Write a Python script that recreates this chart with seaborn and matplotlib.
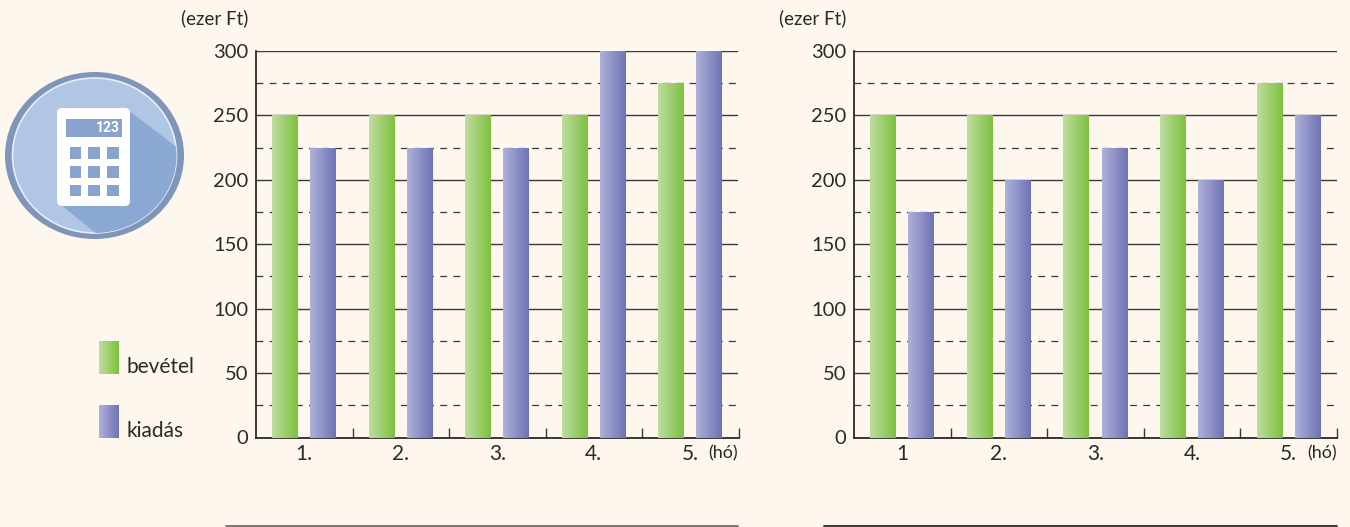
import numpy as np
import pandas as pd
import seaborn as sns
import matplotlib.pyplot as plt
from matplotlib.colors import LinearSegmentedColormap
from matplotlib.patches import Ellipse, Polygon, FancyBboxPatch, Rectangle

# chart values (ezer Ft)
series_names = ['bevétel', 'kiadás']
labels_left = ['1.', '2.', '3.', '4.', '5.']
labels_right = ['1', '2.', '3.', '4.', '5.']
income_left = [250, 250, 250, 250, 275]
expense_left = [225, 225, 225, 300, 300]
income_right = [250, 250, 250, 250, 275]
expense_right = [175, 200, 225, 200, 250]

BG = '#fef7ee'
INK = '#2b2a29'
W, H = 1350, 527
cmaps = {
    'bevétel': LinearSegmentedColormap.from_list('g', ['#bfdd9f', '#7dc13f']),
    'kiadás': LinearSegmentedColormap.from_list('p', ['#aeb1da', '#6e73b4']),
}
ramp = np.linspace(0, 1, 64).reshape(1, -1)

sns.set_theme(style='white')
plt.rcParams['font.family'] = ['Lato', 'DejaVu Sans']
plt.rcParams['text.color'] = INK

fig = plt.figure(figsize=(W / 100, H / 100), dpi=100, facecolor=BG)


# one chart panel, box given in pixels of the picture
def draw_panel(left, right, labels, income, expense):
    ax = fig.add_axes([left / W, 1 - 437.5 / H, (right - left) / W, 386.5 / H], facecolor=BG)
    df = pd.DataFrame({
        'month': labels * 2,
        'series': ['bevétel'] * 5 + ['kiadás'] * 5,
        'value': income + expense,
    })
    sns.barplot(data=df, x='month', y='value', hue='series', hue_order=series_names,
                order=labels, width=0.79, gap=0.32, legend=False, ax=ax)

    # seaborn's flat bars get replaced by horizontal gradients of the same size
    for bars, name in zip(ax.containers, series_names):
        for bar in bars:
            x0, y0 = bar.get_x(), bar.get_y()
            ax.imshow(ramp, cmap=cmaps[name], aspect='auto', zorder=3,
                      extent=[x0, x0 + bar.get_width(), y0, y0 + bar.get_height()])
            bar.set_visible(False)

    ax.set_xlim(-0.5, 4.5)
    ax.set_ylim(0, 300)
    ax.set_xlabel('')
    ax.set_ylabel('')
    ax.set_yticks(range(0, 301, 50))
    ax.set_yticks(range(25, 300, 50), minor=True)
    ax.set_xticks(np.arange(0.5, 5), minor=True)

    ax.set_axisbelow(True)
    ax.yaxis.grid(True, which='major', color='#3a3937', lw=1.0)
    ax.yaxis.grid(True, which='minor', color='#3a3937', lw=0.9, dashes=(5.5, 5))
    ax.xaxis.grid(False)
    ax.tick_params(axis='y', which='both', length=0, pad=5.5, labelsize=14.5, labelcolor=INK)
    ax.tick_params(axis='x', which='major', bottom=False, length=0, pad=5, labelsize=15,
                   labelcolor=INK)
    ax.tick_params(axis='x', which='minor', bottom=True, direction='in', length=7, width=1,
                   color='#3a3937')

    for side in ['top', 'right']:
        ax.spines[side].set_visible(False)
    for side in ['left', 'bottom']:
        ax.spines[side].set_color('#2b2a29')
        ax.spines[side].set_linewidth(1.3)

    overlay.text(right - 15, 453, '(hó)', fontsize=13, ha='center', va='center')
    return ax


# overlay in picture pixels for the icon, legend and loose labels
overlay = fig.add_axes([0, 0, 1, 1], zorder=5)
overlay.set_xlim(0, W)
overlay.set_ylim(H, 0)
overlay.axis('off')

draw_panel(256, 738.5, labels_left, income_left, expense_left)
draw_panel(854, 1337, labels_right, income_right, expense_right)

overlay.text(248, 18, '(ezer Ft)', fontsize=13.5, ha='right', va='center')
overlay.text(846, 18, '(ezer Ft)', fontsize=13.5, ha='right', va='center')
overlay.plot([226, 738], [526, 526], color='#777674', lw=1.4)
overlay.plot([824, 1337], [526, 526], color='#3a3937', lw=1.4)

# legend swatches
for name, y0, base in zip(series_names, [341, 405], [367, 431]):
    overlay.imshow(ramp, cmap=cmaps[name], aspect='auto', extent=[99, 119, y0 + 33, y0])
    overlay.text(127, base, name, fontsize=15, ha='left', va='center')
overlay.set_xlim(0, W)
overlay.set_ylim(H, 0)

# calculator icon
ring = Ellipse((94.5, 155.5), 179, 167, fc='#8095ba', ec='none')
face = Ellipse((94.5, 155.5), 164, 155, fc='#b1c6e5', ec='#e8eef6', lw=1.2)
overlay.add_patch(ring)
overlay.add_patch(face)
shadow = Polygon([(128, 110), (178, 148), (178, 190), (150, 235), (98, 235), (60, 204)],
                 fc='#8ba7d3', ec='none')
overlay.add_patch(shadow)
shadow.set_clip_path(face)
overlay.add_patch(FancyBboxPatch((57, 108), 73, 98, boxstyle='round,pad=0,rounding_size=5',
                                 fc='white', ec='none'))
overlay.add_patch(Rectangle((65.5, 119), 56.5, 18, fc='#8aa3cd', ec='none'))
overlay.text(119.5, 128.5, '123', color='white', fontsize=10, fontweight='bold',
             family=['Roboto', 'DejaVu Sans'], ha='right', va='center')
for bx in [69.5, 88, 107]:
    for by in [147, 166, 184.5]:
        overlay.add_patch(Rectangle((bx, by), 11.5, 11.5, fc='#8aa3cd', ec='none'))

fig.savefig('out.png', dpi=100, facecolor=BG)
